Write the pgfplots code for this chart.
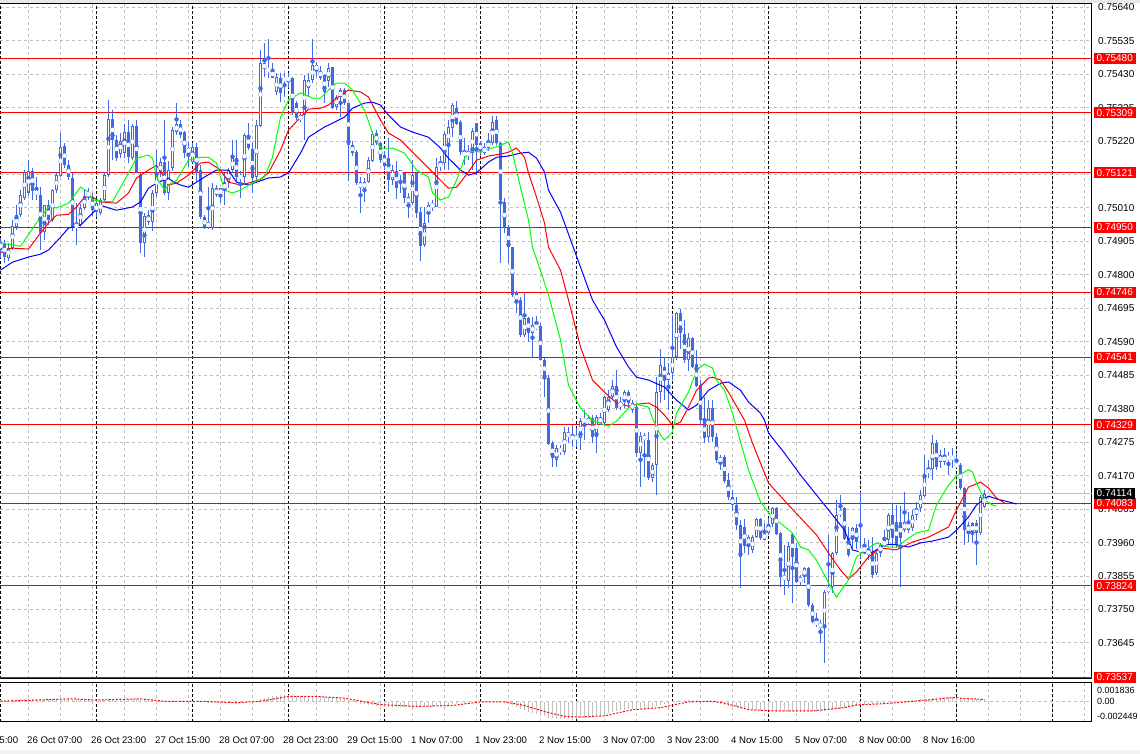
\documentclass[border=0pt]{standalone}
\usepackage{pgfplots}
\pgfplotsset{compat=1.18}
\usepackage{pgfplotstable}
\usepackage{fontspec}
\setmainfont{Liberation Sans}
\definecolor{candle}{HTML}{4169E1}
\definecolor{gridgray}{HTML}{C0C0C0}
\definecolor{lips}{HTML}{00FF00}
\definecolor{teeth}{HTML}{FF0000}
\definecolor{jaw}{HTML}{0000FF}
\definecolor{lvl}{HTML}{FF0000}

\pgfplotstableread{
o h l c
0.74878 0.74918 0.74853 0.74903
0.74900 0.74909 0.74837 0.74856
0.74856 0.74900 0.74846 0.74887
0.74887 0.74972 0.74878 0.74956
0.74950 0.75019 0.74940 0.74987
0.74987 0.75066 0.74981 0.75050
0.75044 0.75129 0.75035 0.75123
0.75060 0.75160 0.75050 0.75129
0.75129 0.75135 0.75035 0.75066
0.75066 0.75107 0.75035 0.75050
0.75050 0.75075 0.74878 0.74931
0.74934 0.75019 0.74909 0.75019
0.75019 0.75035 0.74956 0.74972
0.74972 0.75072 0.74966 0.75066
0.75066 0.75123 0.75060 0.75113
0.75113 0.75245 0.75107 0.75204
0.75204 0.75214 0.75135 0.75144
0.75144 0.75160 0.75097 0.75107
0.75107 0.75120 0.74940 0.74950
0.74959 0.75025 0.74893 0.74950
0.74956 0.75025 0.74950 0.75010
0.75010 0.75066 0.75003 0.75050
0.75050 0.75072 0.75035 0.75057
0.75044 0.75057 0.74987 0.75003
0.74997 0.75035 0.74981 0.75025
0.74994 0.75041 0.74987 0.75035
0.75035 0.75123 0.75029 0.75113
0.75113 0.75348 0.75107 0.75289
0.75289 0.75317 0.75160 0.75223
0.75223 0.75239 0.75160 0.75169
0.75182 0.75245 0.75169 0.75223
0.75182 0.75276 0.75169 0.75248
0.75248 0.75286 0.75151 0.75169
0.75169 0.75276 0.75160 0.75270
0.75270 0.75286 0.75120 0.75123
0.75113 0.75120 0.74869 0.74900
0.74900 0.74994 0.74856 0.74987
0.74987 0.75003 0.74956 0.74966
0.74966 0.75066 0.74940 0.75057
0.75057 0.75191 0.75044 0.75123
0.75120 0.75169 0.75107 0.75154
0.75154 0.75286 0.75050 0.75057
0.75057 0.75160 0.75035 0.75129
0.75135 0.75264 0.75129 0.75254
0.75248 0.75339 0.75239 0.75276
0.75276 0.75286 0.75232 0.75239
0.75248 0.75254 0.75169 0.75182
0.75182 0.75217 0.75138 0.75201
0.75154 0.75214 0.75151 0.75201
0.75201 0.75214 0.75097 0.75120
0.75129 0.75144 0.74975 0.74981
0.74981 0.74987 0.74944 0.74950
0.74950 0.75075 0.74944 0.74966
0.74947 0.75088 0.74940 0.75072
0.75050 0.75082 0.75044 0.75072
0.75050 0.75075 0.75025 0.75072
0.75091 0.75120 0.75019 0.75066
0.75091 0.75138 0.75075 0.75129
0.75129 0.75223 0.75120 0.75169
0.75169 0.75223 0.75097 0.75107
0.75107 0.75129 0.75044 0.75107
0.75107 0.75245 0.75088 0.75239
0.75239 0.75276 0.75191 0.75198
0.75198 0.75214 0.75057 0.75107
0.75107 0.75286 0.75088 0.75270
0.75270 0.75505 0.75264 0.75465
0.75465 0.75527 0.75420 0.75446
0.75449 0.75543 0.75420 0.75436
0.75442 0.75465 0.75417 0.75420
0.75374 0.75433 0.75364 0.75420
0.75417 0.75436 0.75342 0.75371
0.75411 0.75433 0.75358 0.75417
0.75411 0.75436 0.75386 0.75417
0.75417 0.75420 0.75301 0.75308
0.75342 0.75348 0.75286 0.75295
0.75286 0.75308 0.75279 0.75301
0.75301 0.75427 0.75223 0.75411
0.75386 0.75433 0.75358 0.75411
0.75411 0.75540 0.75402 0.75461
0.75461 0.75468 0.75420 0.75442
0.75442 0.75455 0.75411 0.75420
0.75427 0.75433 0.75342 0.75374
0.75411 0.75465 0.75389 0.75452
0.75452 0.75452 0.75323 0.75326
0.75326 0.75364 0.75317 0.75358
0.75358 0.75386 0.75295 0.75380
0.75380 0.75386 0.75333 0.75339
0.75339 0.75342 0.75097 0.75207
0.75207 0.75223 0.75176 0.75185
0.75185 0.75191 0.75082 0.75088
0.75091 0.75107 0.74994 0.75072
0.75072 0.75104 0.75029 0.75091
0.75091 0.75169 0.75088 0.75160
0.75160 0.75254 0.75154 0.75245
0.75245 0.75254 0.75207 0.75214
0.75214 0.75217 0.75151 0.75160
0.75176 0.75191 0.75129 0.75144
0.75166 0.75232 0.75060 0.75097
0.75097 0.75144 0.75082 0.75129
0.75129 0.75160 0.75041 0.75075
0.75129 0.75129 0.75057 0.75113
0.75120 0.75120 0.75025 0.75041
0.75044 0.75057 0.74981 0.75025
0.75025 0.75160 0.75019 0.75113
0.75120 0.75123 0.74978 0.74994
0.74997 0.75013 0.74846 0.74893
0.74893 0.75013 0.74887 0.74962
0.74994 0.75029 0.74962 0.75019
0.75013 0.75035 0.75003 0.75025
0.75013 0.75169 0.75013 0.75138
0.75138 0.75176 0.75129 0.75154
0.75154 0.75248 0.75129 0.75245
0.75207 0.75286 0.75129 0.75264
0.75260 0.75339 0.75232 0.75333
0.75326 0.75348 0.75270 0.75276
0.75279 0.75286 0.75176 0.75185
0.75185 0.75229 0.75144 0.75176
0.75176 0.75207 0.75160 0.75185
0.75185 0.75260 0.75129 0.75254
0.75276 0.75276 0.75113 0.75207
0.75214 0.75223 0.75176 0.75191
0.75185 0.75214 0.75176 0.75201
0.75198 0.75245 0.75191 0.75217
0.75214 0.75301 0.75207 0.75279
0.75286 0.75301 0.75207 0.75214
0.75214 0.75217 0.74840 0.75035
0.75029 0.75041 0.74931 0.74947
0.74947 0.74956 0.74837 0.74887
0.74887 0.74887 0.74730 0.74737
0.74746 0.74752 0.74683 0.74715
0.74721 0.74730 0.74605 0.74611
0.74611 0.74743 0.74605 0.74665
0.74665 0.74668 0.74589 0.74620
0.74617 0.74668 0.74539 0.74642
0.74633 0.74674 0.74627 0.74642
0.74642 0.74649 0.74533 0.74533
0.74533 0.74542 0.74417 0.74479
0.74479 0.74486 0.74266 0.74272
0.74272 0.74279 0.74197 0.74225
0.74219 0.74266 0.74197 0.74257
0.74257 0.74266 0.74235 0.74244
0.74244 0.74322 0.74235 0.74307
0.74307 0.74322 0.74272 0.74291
0.74291 0.74328 0.74260 0.74288
0.74291 0.74322 0.74260 0.74288
0.74291 0.74350 0.74250 0.74344
0.74338 0.74376 0.74282 0.74350
0.74335 0.74360 0.74328 0.74350
0.74350 0.74360 0.74272 0.74291
0.74291 0.74360 0.74241 0.74354
0.74354 0.74366 0.74328 0.74335
0.74335 0.74423 0.74328 0.74417
0.74376 0.74438 0.74369 0.74417
0.74417 0.74470 0.74407 0.74451
0.74451 0.74501 0.74376 0.74382
0.74385 0.74417 0.74376 0.74401
0.74401 0.74438 0.74382 0.74432
0.74432 0.74438 0.74382 0.74398
0.74398 0.74407 0.74369 0.74376
0.74385 0.74398 0.74228 0.74241
0.74241 0.74307 0.74134 0.74297
0.74297 0.74304 0.74166 0.74282
0.74282 0.74307 0.74156 0.74163
0.74163 0.74210 0.74150 0.74204
0.74204 0.74479 0.74109 0.74432
0.74432 0.74570 0.74398 0.74517
0.74511 0.74542 0.74407 0.74476
0.74470 0.74523 0.74376 0.74492
0.74492 0.74674 0.74470 0.74542
0.74542 0.74683 0.74533 0.74680
0.74680 0.74693 0.74570 0.74617
0.74617 0.74658 0.74523 0.74533
0.74533 0.74620 0.74501 0.74602
0.74602 0.74605 0.74507 0.74511
0.74523 0.74564 0.74448 0.74454
0.74454 0.74470 0.74328 0.74344
0.74344 0.74417 0.74275 0.74288
0.74291 0.74407 0.74275 0.74382
0.74382 0.74407 0.74275 0.74291
0.74291 0.74304 0.74210 0.74219
0.74213 0.74235 0.74188 0.74229
0.74229 0.74235 0.74150 0.74156
0.74156 0.74178 0.74094 0.74103
0.74103 0.74125 0.74062 0.74078
0.74078 0.74103 0.73999 0.74015
0.74015 0.74031 0.73818 0.73915
0.74009 0.74037 0.73930 0.73952
0.73952 0.73984 0.73921 0.73977
0.73937 0.73984 0.73927 0.73977
0.73977 0.74037 0.73974 0.74034
0.74034 0.74037 0.73968 0.73974
0.73971 0.74021 0.73968 0.73990
0.73990 0.74037 0.73984 0.74018
0.74018 0.74072 0.74009 0.74069
0.74069 0.74072 0.73984 0.73990
0.73990 0.73993 0.73820 0.73852
0.73858 0.73952 0.73796 0.73843
0.73840 0.73962 0.73820 0.73949
0.73987 0.73990 0.73771 0.73915
0.73943 0.73959 0.73834 0.73837
0.73837 0.73858 0.73827 0.73852
0.73852 0.73884 0.73834 0.73881
0.73881 0.73884 0.73758 0.73764
0.73764 0.73771 0.73708 0.73711
0.73717 0.73739 0.73695 0.73701
0.73708 0.73717 0.73645 0.73692
0.73692 0.73811 0.73583 0.73805
0.73805 0.73984 0.73802 0.73821
0.73821 0.73930 0.73802 0.73927
0.73927 0.74094 0.73921 0.74047
0.74047 0.74109 0.74040 0.74062
0.74069 0.74072 0.73968 0.73974
0.73974 0.74009 0.73915 0.73921
0.73974 0.74009 0.73943 0.74006
0.74006 0.74021 0.73943 0.73962
0.73930 0.74119 0.73912 0.73943
0.73943 0.73974 0.73927 0.73933
0.73921 0.73968 0.73905 0.73937
0.73930 0.73977 0.73849 0.73858
0.73865 0.73930 0.73858 0.73927
0.73927 0.73959 0.73915 0.73952
0.73949 0.73999 0.73946 0.73968
0.73968 0.74053 0.73952 0.74047
0.74047 0.74084 0.73943 0.73974
0.74025 0.74078 0.73943 0.73952
0.74025 0.74075 0.73820 0.73974
0.73999 0.74119 0.73993 0.74025
0.74025 0.74056 0.73993 0.73999
0.74006 0.74062 0.73996 0.74047
0.74047 0.74088 0.74031 0.74069
0.74069 0.74125 0.74056 0.74109
0.74109 0.74235 0.74103 0.74178
0.74178 0.74219 0.74163 0.74191
0.74191 0.74297 0.74156 0.74272
0.74272 0.74282 0.74188 0.74197
0.74213 0.74250 0.74194 0.74235
0.74213 0.74257 0.74204 0.74235
0.74232 0.74244 0.74172 0.74222
0.74222 0.74257 0.74194 0.74232
0.74210 0.74241 0.74194 0.74197
0.74204 0.74210 0.74125 0.74131
0.74131 0.74134 0.73952 0.73999
0.74015 0.74025 0.73962 0.73993
0.74021 0.74025 0.73959 0.73990
0.74021 0.74031 0.73890 0.73990
0.73990 0.74109 0.73984 0.74103
0.74072 0.74125 0.74069 0.74113
}\candles

\pgfplotstableread[row sep=\\]{
v\\0.0003\\0.0003\\0.0003\\0.0004\\0.0004\\0.0004\\0.0004\\0.0005\\0.0005\\0.0005\\
0.0005\\0.0005\\0.0005\\0.0005\\0.0005\\0.0005\\0.0005\\0.0004\\0.0004\\0.0004\\
0.0004\\0.0004\\0.0003\\0.0003\\0.0003\\0.0003\\0.0003\\0.0004\\0.0004\\0.0004\\
0.0004\\0.0005\\0.0005\\0.0005\\0.0005\\0.0004\\0.0004\\0.0003\\0.0003\\0.0002\\
0.0002\\0.0001\\0.0001\\0.0001\\0.0001\\0.0001\\0.0001\\0\\0\\0\\
0\\0\\-0.0001\\-0.0001\\-0.0002\\-0.0002\\-0.0002\\-0.0002\\-0.0001\\-0.0001\\
-0.0001\\0\\0\\0.0001\\0.0002\\0.0004\\0.0006\\0.0008\\0.0009\\0.0010\\
0.0011\\0.0011\\0.0011\\0.0011\\0.0010\\0.0010\\0.0010\\0.0010\\0.0010\\0.0009\\
0.0009\\0.0008\\0.0008\\0.0007\\0.0006\\0.0005\\0.0004\\0.0003\\0.0001\\-0.0001\\
-0.0003\\-0.0004\\-0.0005\\-0.0006\\-0.0007\\-0.0007\\-0.0008\\-0.0008\\-0.0008\\-0.0008\\
-0.0008\\-0.0008\\-0.0008\\-0.0009\\-0.0009\\-0.0009\\-0.0008\\-0.0008\\-0.0008\\-0.0007\\
-0.0007\\-0.0006\\-0.0005\\-0.0004\\-0.0003\\-0.0002\\-0.0001\\0\\0\\0\\
0.0001\\0.0001\\0.0001\\0\\0\\0\\-0.0002\\-0.0004\\-0.0006\\-0.0009\\
-0.0012\\-0.0014\\-0.0016\\-0.0018\\-0.0020\\-0.0022\\-0.0024\\-0.0026\\-0.0027\\-0.0028\\
-0.0029\\-0.0029\\-0.0029\\-0.0028\\-0.0028\\-0.0027\\-0.0027\\-0.0026\\-0.0025\\-0.0024\\
-0.0023\\-0.0021\\-0.0019\\-0.0017\\-0.0015\\-0.0014\\-0.0013\\-0.0012\\-0.0012\\-0.0012\\
-0.0012\\-0.0011\\-0.0010\\-0.0009\\-0.0007\\-0.0005\\-0.0003\\-0.0002\\0\\0.0001\\
0.0002\\0.0003\\0.0003\\0.0003\\0.0003\\0.0002\\0.0001\\0\\-0.0001\\-0.0002\\
-0.0004\\-0.0005\\-0.0007\\-0.0008\\-0.0009\\-0.0010\\-0.0011\\-0.0012\\-0.0013\\-0.0014\\
-0.0015\\-0.0015\\-0.0015\\-0.0015\\-0.0016\\-0.0016\\-0.0016\\-0.0016\\-0.0016\\-0.0016\\
-0.0016\\-0.0016\\-0.0016\\-0.0016\\-0.0016\\-0.0016\\-0.0015\\-0.0014\\-0.0013\\-0.0012\\
-0.0011\\-0.0010\\-0.0009\\-0.0008\\-0.0007\\-0.0006\\-0.0005\\-0.0004\\-0.0003\\-0.0002\\
-0.0001\\-0.0001\\0\\0\\0.0001\\0.0001\\0.0002\\0.0002\\0.0003\\0.0003\\
0.0004\\0.0005\\0.0005\\0.0006\\0.0007\\0.0007\\0.0008\\0.0008\\0.0008\\0.0008\\
0.0007\\0.0007\\0.0006\\0.0006\\0.0005\\0.0005\\0.0005\\
}\macd

\pgfplotsset{
  mtgrid/.style={
    xmin=-0.125, xmax=272.875,
    scale only axis, width=1092pt,
    axis x line=box, axis y line=right,
    axis line style={-, black, line width=1pt},
    xtick={7,15,...,271},
    major tick length=0pt,
    grid=major,
    major grid style={gridgray, line width=1pt, dash pattern=on 3pt off 3pt},
    extra x ticks={0,24,48,72,96,120,144,168,192,215,239,263},
    extra x tick labels={},
    extra x tick style={major grid style={black, line width=1pt, dash pattern=on 3pt off 2pt}},
    tick label style={font=\fontsize{10}{11}\selectfont},
    yticklabel style={anchor=west, inner sep=0pt, xshift=6pt},
  }
}

\begin{document}
\begin{tikzpicture}
\useasboundingbox (0pt,0pt) rectangle (1140pt,754pt);
\fill[gray!18] (0pt,751pt) rectangle (1140pt,754pt);
\fill[gray!10] (0pt,0pt) rectangle (1140pt,4pt);

\begin{axis}[mtgrid, at={(0pt,75pt)}, anchor=south west, height=675pt,
  ymin=0.73532, ymax=0.75650, clip=false,
  xticklabels={},
  ytick={0.73645,0.73750,0.73855,0.73960,0.74065,0.74170,0.74275,0.74380,0.74485,0.74590,0.74695,0.74800,0.74905,0.75010,0.75115,0.75220,0.75325,0.75430,0.75535,0.75640},
  yticklabels={0.73645,0.73750,0.73855,0.73960,0.74065,0.74170,0.74275,0.74380,0.74485,0.74590,0.74695,0.74800,0.74905,0.75010,0.75115,0.75220,0.75325,0.75430,0.75535,0.75640},
  extra y ticks={0.75480,0.75309,0.75121,0.74950,0.74746,0.74541,0.74329,0.74083,0.73824,0.73537},
  extra y tick labels={0.75480,0.75309,0.75121,0.74950,0.74746,0.74541,0.74329,0.74083,0.73824,0.73537},
  extra y tick style={major grid style={lvl, line width=1pt, solid},
    yticklabel style={fill=lvl, text=white, inner xsep=3pt, inner ysep=0pt, minimum height=11pt, xshift=-4.5pt}},
]
% bid line
\addplot[gridgray, line width=1pt, forget plot] coordinates {(-0.125,0.74114) (272.875,0.74114)};
% wicks
\addplot[candle, only marks, mark=none, forget plot,
  error bars/.cd, y dir=both, y explicit, error mark=none,
  error bar style={line width=1pt, candle, solid}]
  table[x expr=\coordindex, y expr={(\thisrow{h}+\thisrow{l})/2}, y error expr={(\thisrow{h}-\thisrow{l})/2}] {\candles};
% bodies
\addplot[candle, only marks, mark=none, forget plot,
  error bars/.cd, y dir=both, y explicit, error mark=none,
  error bar style={line width=3pt, candle, solid}]
  table[x expr=\coordindex, y expr={(\thisrow{o}+\thisrow{c})/2}, y error expr={max(abs(\thisrow{o}-\thisrow{c})/2,0.000016)}] {\candles};
% hollow interior of bull candles
\addplot[white, only marks, mark=none, forget plot,
  error bars/.cd, y dir=both, y explicit, error mark=none,
  error bar style={line width=1pt, white, solid}]
  table[x expr=\coordindex, y expr={(\thisrow{o}+\thisrow{c})/2}, y error expr={max((\thisrow{c}-\thisrow{o})/2-0.0000314,0)}] {\candles};
% Alligator jaw
\addplot[jaw, line width=1pt] coordinates {
(0,0.74815) (3,0.74840) (7,0.74856) (10,0.74865) (12,0.74878) (15,0.74918) (17,0.74947) (20,0.74956) (22,0.74981) (25,0.75019) (27,0.75010) (29,0.75003) (33,0.75013) (35,0.75029) (37,0.75072) (39,0.75088) (42,0.75104) (43,0.75094) (45,0.75082) (47,0.75075) (51,0.75107) (54,0.75129) (57,0.75129) (59,0.75091) (62,0.75082) (64,0.75091) (67,0.75104) (70,0.75107) (72,0.75120) (75,0.75182) (77,0.75232) (81,0.75264) (83,0.75276) (86,0.75295) (88,0.75323) (91,0.75339) (93,0.75342) (95,0.75333) (97,0.75301) (100,0.75264) (103,0.75248) (107,0.75232) (110,0.75198) (112,0.75166) (115,0.75129) (117,0.75113) (119,0.75120) (122,0.75154) (124,0.75169) (127,0.75173) (130,0.75182) (132,0.75185) (134,0.75166) (136,0.75123) (137,0.75066) (140,0.74997) (144,0.74859) (148,0.74721) (151,0.74658) (154,0.74574) (157,0.74511) (159,0.74479) (162,0.74470) (166,0.74448) (169,0.74407) (172,0.74376) (174,0.74391) (177,0.74438) (180,0.74460) (182,0.74464) (185,0.74438) (187,0.74401) (190,0.74366) (191,0.74344) (192,0.74304) (196,0.74241) (200,0.74172) (203,0.74125) (206,0.74078) (208,0.74047) (211,0.73999) (213,0.73937) (216,0.73927) (218,0.73930) (221,0.73952) (223,0.73955) (227,0.73946) (230,0.73959) (233,0.73965) (237,0.73977) (239,0.73999) (242,0.74040) (244,0.74078) (247,0.74106) (249,0.74097) (252,0.74088) (254,0.74081)};
% Alligator teeth
\addplot[teeth, line width=1pt] coordinates {
(0,0.74869) (2,0.74881) (3,0.74884) (7,0.74881) (9,0.74915) (12,0.74963) (14,0.74987) (17,0.74990) (19,0.75013) (21,0.75044) (23,0.75044) (25,0.75029) (29,0.75025) (32,0.75057) (34,0.75104) (37,0.75129) (39,0.75144) (41,0.75104) (42,0.75082) (44,0.75088) (47,0.75113) (50,0.75151) (52,0.75154) (55,0.75129) (57,0.75091) (60,0.75082) (62,0.75088) (65,0.75100) (67,0.75120) (70,0.75191) (72,0.75254) (75,0.75295) (77,0.75320) (80,0.75323) (82,0.75333) (85,0.75364) (87,0.75380) (90,0.75374) (92,0.75358) (95,0.75286) (97,0.75245) (100,0.75223) (103,0.75185) (107,0.75135) (110,0.75097) (112,0.75072) (114,0.75075) (117,0.75123) (119,0.75160) (122,0.75173) (125,0.75179) (127,0.75185) (129,0.75198) (131,0.75169) (132,0.75120) (134,0.75044) (136,0.74963) (137,0.74887) (140,0.74815) (142,0.74721) (145,0.74574) (148,0.74470) (151,0.74432) (154,0.74398) (157,0.74388) (159,0.74394) (162,0.74398) (164,0.74385) (166,0.74360) (168,0.74328) (170,0.74338) (172,0.74385) (174,0.74438) (177,0.74476) (178,0.74479) (180,0.74470) (182,0.74432) (186,0.74344) (188,0.74272) (192,0.74147) (197,0.74078) (204,0.73984) (207,0.73927) (210,0.73874) (212,0.73846) (214,0.73868) (217,0.73915) (220,0.73943) (224,0.73937) (228,0.73962) (232,0.73977) (237,0.74009) (239,0.74062) (242,0.74134) (245,0.74150) (247,0.74131) (249,0.74100) (251,0.74084)};
% Alligator lips
\addplot[lips, line width=1pt] coordinates {
(0,0.74900) (5,0.74890) (9,0.74963) (12,0.75013) (14,0.75010) (17,0.75025) (20,0.75075) (22,0.75060) (23,0.75035) (25,0.75032) (28,0.75029) (32,0.75120) (34,0.75166) (37,0.75176) (38,0.75166) (39,0.75107) (41,0.75066) (42,0.75082) (44,0.75097) (47,0.75160) (50,0.75169) (52,0.75169) (54,0.75151) (56,0.75066) (58,0.75057) (60,0.75066) (63,0.75088) (66,0.75107) (68,0.75169) (70,0.75295) (72,0.75348) (75,0.75371) (78,0.75355) (80,0.75355) (82,0.75380) (84,0.75402) (86,0.75402) (88,0.75380) (91,0.75317) (93,0.75245) (95,0.75198) (98,0.75198) (101,0.75182) (104,0.75129) (107,0.75107) (108,0.75057) (110,0.75035) (112,0.75044) (114,0.75097) (116,0.75166) (118,0.75191) (120,0.75185) (123,0.75198) (125,0.75207) (127,0.75217) (128,0.75182) (130,0.75075) (132,0.74972) (133,0.74887) (136,0.74775) (137,0.74737) (138,0.74690) (140,0.74596) (142,0.74454) (145,0.74382) (148,0.74344) (152,0.74325) (154,0.74341) (157,0.74382) (159,0.74394) (162,0.74385) (163,0.74350) (165,0.74297) (166,0.74282) (168,0.74307) (169,0.74366) (172,0.74432) (174,0.74501) (176,0.74520) (178,0.74508) (179,0.74470) (181,0.74438) (183,0.74366) (185,0.74276) (187,0.74188) (190,0.74088) (193,0.74037) (195,0.74021) (198,0.73990) (200,0.73946) (202,0.73937) (204,0.73905) (207,0.73834) (209,0.73789) (212,0.73843) (214,0.73915) (217,0.73943) (219,0.73959) (222,0.73946) (224,0.73946) (227,0.73974) (229,0.73990) (232,0.73999) (234,0.74078) (237,0.74140) (239,0.74169) (242,0.74188) (243,0.74182) (244,0.74147) (246,0.74094) (248,0.74078) (249,0.74075)};
\node[anchor=west, fill=black, text=white, inner xsep=3pt, inner ysep=0pt, minimum height=11pt, font=\fontsize{10}{11}\selectfont, xshift=1.5pt] at (axis cs:272.875,0.74114) {0.74114};
\end{axis}

\begin{axis}[mtgrid, at={(0pt,32pt)}, anchor=south west, height=39pt,
  ymin=-0.00332, ymax=0.00311, clip=false,
  ymajorgrids=false,
  ytick={-0.002449,0,0.001836}, yticklabels={-0.002449,0.00,0.001836},
  yticklabel style={font=\fontsize{9}{10}\selectfont, xshift=-1pt},
  extra y ticks={0}, extra y tick labels={}, extra y tick style={ymajorgrids=true},
  xticklabels={26 Oct 07:00,,26 Oct 23:00,,27 Oct 15:00,,28 Oct 07:00,,28 Oct 23:00,,29 Oct 15:00,,1 Nov 07:00,,1 Nov 23:00,,2 Nov 15:00,,3 Nov 07:00,,3 Nov 23:00,,4 Nov 15:00,,5 Nov 07:00,,8 Nov 00:00,,8 Nov 16:00,,,,,},
  xticklabel style={anchor=north west, inner sep=0pt, xshift=-1.5pt, yshift=-15pt, font=\fontsize{9.6}{11}\selectfont},
]
\addplot[ycomb, gridgray, line width=1pt, forget plot] table[x expr=\coordindex, y=v] {\macd};
\addplot[teeth, line width=1pt, dash pattern=on 2pt off 1.5pt] coordinates {
(0,0.0001) (9,0.0003) (18,0.0005) (24,0.0003) (35,0.0005) (41,0.0001) (50,0.0001) (59,-0.00015) (65,0.0001) (72,0.0009) (79,0.0009) (86,0.0006) (95,-0.00045) (104,-0.00075) (113,-0.0006) (120,0) (126,0) (131,-0.0006) (136,-0.0016) (141,-0.0024) (145,-0.0025) (151,-0.0023) (158,-0.0013) (165,-0.00095) (172,0) (178,0.0001) (181,-0.0002) (187,-0.0013) (194,-0.0015) (203,-0.0015) (211,-0.00095) (214,-0.0005) (221,-0.0003) (230,0.0002) (238,0.0007) (243,0.0005) (246,0.0004)};
\node[anchor=north west, inner sep=0pt, xshift=-1.5pt, yshift=-15pt, font=\fontsize{9.6}{11}\selectfont] at (axis cs:-9,-0.00332) {25 Oct 15:00};
\end{axis}
\end{tikzpicture}
\end{document}
